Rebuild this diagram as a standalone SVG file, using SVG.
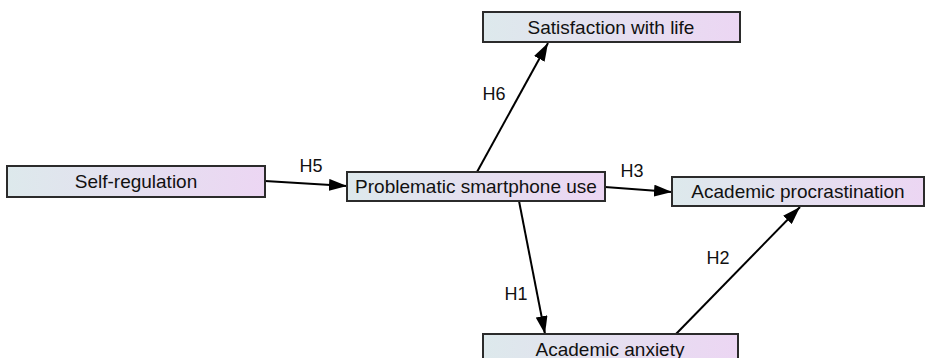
<svg xmlns="http://www.w3.org/2000/svg" width="927" height="358" viewBox="0 0 927 358">
<defs>
<linearGradient id="g" x1="0" y1="0" x2="1" y2="0">
<stop offset="0" stop-color="#dde9ec"/>
<stop offset="1" stop-color="#ecd6f3"/>
</linearGradient>
<marker id="ah2" viewBox="0 0 18 12" refX="18" refY="6" markerWidth="18" markerHeight="12" markerUnits="userSpaceOnUse" orient="auto">
<path d="M0,0 L18,6 L0,12 z" fill="#000"/>
</marker>
</defs>
<style>
.box{fill:url(#g);stroke:#2b2b2b;stroke-width:2}
.t{font-family:"Liberation Sans",Arial,sans-serif;font-size:19px;fill:#111;text-anchor:middle}
.lb{font-family:"Liberation Sans",Arial,sans-serif;font-size:18px;fill:#111;text-anchor:middle}
.e{stroke:#000;stroke-width:2;fill:none;marker-end:url(#ah2)}
</style>
<rect width="927" height="358" fill="#fff"/>
<g id="connectors">
<line class="e" x1="265" y1="181" x2="347" y2="186"/>
<line class="e" x1="605" y1="187" x2="672" y2="192"/>
<line class="e" x1="477" y1="172" x2="548" y2="43"/>
<line class="e" x1="519" y1="201" x2="545" y2="334"/>
<line class="e" x1="676" y1="334" x2="800" y2="207"/>
<text class="lb" x="311" y="172">H5</text>
<text class="lb" x="632" y="177">H3</text>
<text class="lb" x="494" y="100">H6</text>
<text class="lb" x="516" y="300">H1</text>
<text class="lb" x="718" y="264">H2</text>
</g>
<g id="n-satisfaction">
<rect class="box" x="483" y="12" width="257" height="30"/>
<text class="t" x="611" y="34">Satisfaction with life</text>
</g>
<g id="n-selfreg">
<rect class="box" x="7" y="166" width="258" height="31"/>
<text class="t" x="136" y="188">Self-regulation</text>
</g>
<g id="n-psu">
<rect class="box" x="347" y="172" width="258" height="29"/>
<text class="t" x="476" y="193">Problematic smartphone use</text>
</g>
<g id="n-procrastination">
<rect class="box" x="672" y="177" width="252" height="29"/>
<text class="t" x="798" y="198">Academic procrastination</text>
</g>
<g id="n-anxiety">
<rect class="box" x="483" y="334" width="255" height="30"/>
<text class="t" x="610" y="356">Academic anxiety</text>
</g>
</svg>
